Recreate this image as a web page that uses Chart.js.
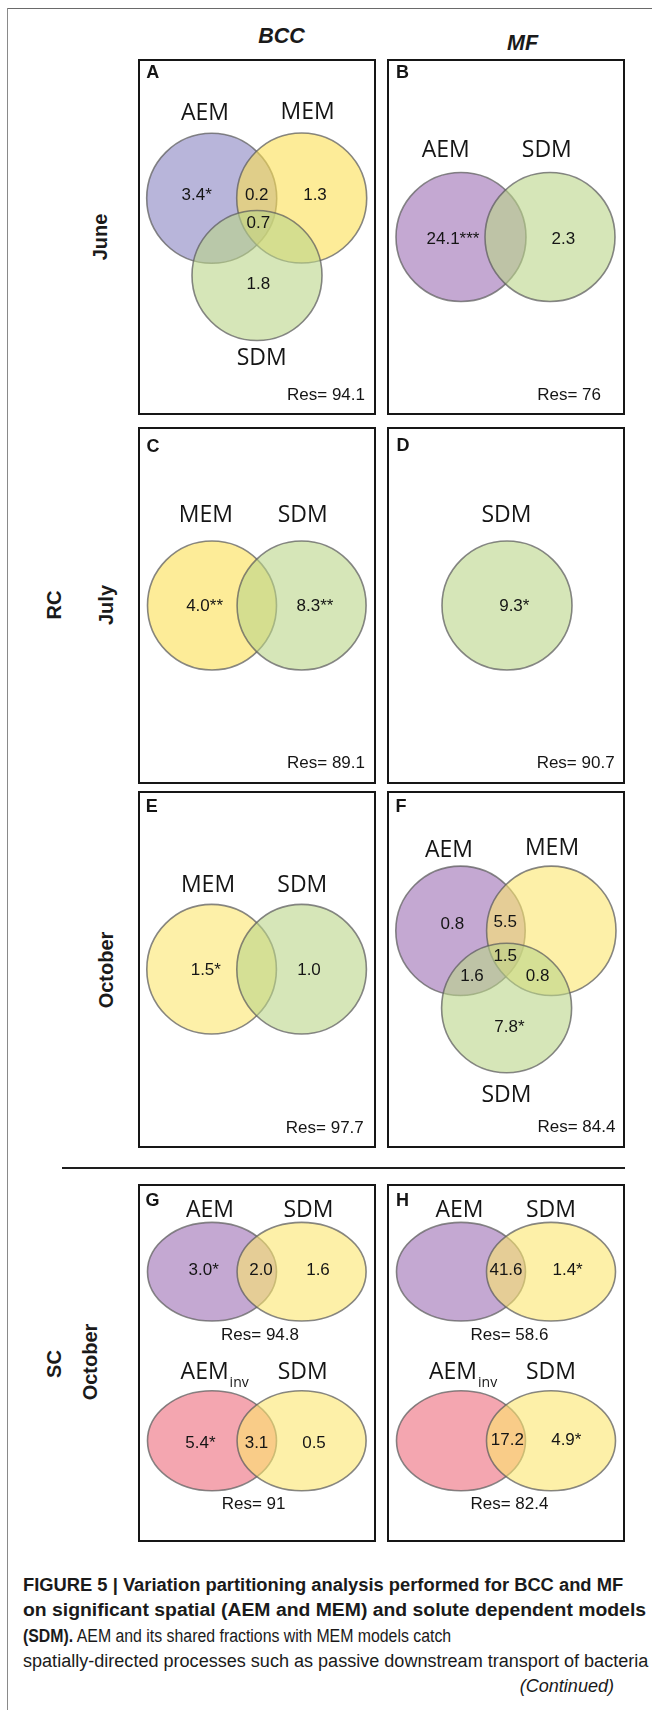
<!DOCTYPE html>
<html>
<head>
<meta charset="utf-8">
<script src="https://cdn.jsdelivr.net/npm/chart.js@4.4.1/dist/chart.umd.min.js"></script>
<style>
  html, body { margin: 0; padding: 0; background: #fff; }
  #page { position: relative; width: 652px; height: 1710px; overflow: hidden; background: #fff;
          font-family: "Liberation Sans", Arial, sans-serif; color: #111; }
  .frame-top { position: absolute; left: 7px; top: 7.5px; width: 645px; height: 1.6px; background: #6a6a6a; }
  .frame-left { position: absolute; left: 6.5px; top: 7.5px; width: 1.6px; height: 1703px; background: #8a8a8a; }
  .col-head { position: absolute; font-weight: bold; font-style: italic; font-size: 21.5px;
              transform: translate(-50%, -50%); white-space: nowrap; color: #1a1a1a; }
  .row-lab { position: absolute; font-weight: bold; font-size: 20px; white-space: nowrap; color: #1a1a1a;
             transform: translate(-50%, -50%) rotate(-90deg); }
  .sep { position: absolute; left: 62px; top: 1166.5px; width: 563px; height: 2.6px; background: #1e1e1e; }
  canvas.panel { position: absolute; }
  .cap { position: absolute; left: 23px; font-size: 18px; line-height: 1; white-space: nowrap;
         transform-origin: left center; color: #1a1a1a; }
  .cap.right { left: auto; transform-origin: right center; }
</style>
</head>
<body>
<div id="page">
  <div class="frame-top"></div>
  <div class="frame-left"></div>
  <div id="heads"></div>
  <div class="sep"></div>
  <div class="cap" id="cap1" style="top:1576px"><b>FIGURE 5 | Variation partitioning analysis performed for BCC and MF</b></div>
  <div class="cap" id="cap2" style="top:1601px"><b>on significant spatial (AEM and MEM) and solute dependent models</b></div>
  <div class="cap" id="cap3" style="top:1627px"><b>(SDM).</b> AEM and its shared fractions with MEM models catch</div>
  <div class="cap" id="cap4" style="top:1652px">spatially-directed processes such as passive downstream transport of bacteria</div>
  <div class="cap right" id="cap5" style="top:1677px; right:38px"><i>(Continued)</i></div>
</div>
<script>
// ---- figure text ----
const columnTitles = ['BCC', 'MF'];
const rowTitles = ['June', 'RC', 'July', 'October', 'SC', 'October'];
const panelLetters = ['A', 'B', 'C', 'D', 'E', 'F', 'G', 'H'];

// ---- variation partitioning results (% explained variance) ----
const diagramIds = ['A', 'B', 'C', 'D', 'E', 'F', 'G1', 'G2', 'H1', 'H2'];
const diagramSets = [
  ['AEM', 'MEM', 'SDM'], ['AEM', 'SDM'], ['MEM', 'SDM'], ['SDM'], ['MEM', 'SDM'],
  ['AEM', 'MEM', 'SDM'], ['AEM', 'SDM'], ['AEM_inv', 'SDM'], ['AEM', 'SDM'], ['AEM_inv', 'SDM']
];
const fractionRegions = [
  ['AEM', 'AEM+MEM', 'MEM', 'AEM+MEM+SDM', 'SDM'],
  ['AEM', 'SDM'],
  ['MEM', 'SDM'],
  ['SDM'],
  ['MEM', 'SDM'],
  ['AEM', 'AEM+MEM', 'AEM+MEM+SDM', 'AEM+SDM', 'MEM+SDM', 'SDM'],
  ['AEM', 'AEM+SDM', 'SDM'],
  ['AEM_inv', 'AEM_inv+SDM', 'SDM'],
  ['AEM+SDM', 'SDM'],
  ['AEM_inv+SDM', 'SDM']
];
const fractionValues = [
  [3.4, 0.2, 1.3, 0.7, 1.8],
  [24.1, 2.3],
  [4.0, 8.3],
  [9.3],
  [1.5, 1.0],
  [0.8, 5.5, 1.5, 1.6, 0.8, 7.8],
  [3.0, 2.0, 1.6],
  [5.4, 3.1, 0.5],
  [41.6, 1.4],
  [17.2, 4.9]
];
const fractionSignif = [
  ['*', '', '', '', ''],
  ['***', ''],
  ['**', '**'],
  ['*'],
  ['*', ''],
  ['', '', '', '', '', '*'],
  ['*', '', ''],
  ['*', '', ''],
  ['', '*'],
  ['', '*']
];
const residuals = [94.1, 76, 89.1, 90.7, 97.7, 84.4, 94.8, 91, 58.6, 82.4];

// ---- page layout (px) ----
const PANEL_BOX = {
  A: [138, 59, 238, 356], B: [387, 59, 238, 356],
  C: [138, 427, 238, 357], D: [387, 427, 238, 357],
  E: [138, 791, 238, 357], F: [387, 791, 238, 357],
  G: [138, 1184, 238, 358], H: [387, 1184, 238, 358]
};
const LETTER_POS = {
  A: [14.7, 13.7], B: [15.5, 13.7], C: [15, 19.7], D: [16, 19],
  E: [13.8, 15.7], F: [14, 15.7], G: [14.6, 16.7], H: [15.5, 16.7]
};
const FILL = {
  lav:    'rgba(137,132,193,0.6)',
  purple: 'rgba(157,110,180,0.6)',
  yelA:   'rgba(252,223,83,0.6)',
  yel:    'rgba(252,230,110,0.6)',
  green:  'rgba(187,213,137,0.6)',
  pink:   'rgba(237,107,123,0.6)'
};
// set ellipses (centre x, centre y, radius x, radius y), fills, label anchors, in panel coordinates
const DIAGRAM_LAYOUT = {
  A:  { shapes: [[73.7, 139.3, 65, 65], [163.7, 139, 65, 65], [119, 216.5, 65, 65]],
        fills: ['lav', 'yelA', 'green'], names: [[67, 54], [169.7, 53.4], [123.7, 299.3]],
        regions: [[58.7, 136], [118.7, 136], [177, 136], [120.3, 164.3], [120.3, 225]],
        res: ['right', 227, 336] },
  B:  { shapes: [[74, 178, 65, 64.5], [163, 178, 65, 64.5]],
        fills: ['purple', 'green'], names: [[58.7, 91.5], [159.8, 91.5]],
        regions: [[66, 180], [176.4, 180]], res: ['right', 214, 336] },
  C:  { shapes: [[74, 178.5, 64.5, 64.5], [163.6, 178.5, 64.5, 64.5]],
        fills: ['yelA', 'green'], names: [[67.8, 88], [164.7, 88]],
        regions: [[66.6, 179.7], [177, 179.7]], res: ['right', 227, 336.3] },
  D:  { shapes: [[120, 178.5, 65, 64.5]],
        fills: ['green'], names: [[119.4, 88]],
        regions: [[127.3, 179.7]], res: ['right', 227.6, 336.3] },
  E:  { shapes: [[73.6, 178.2, 64.8, 64.8], [163.6, 178.2, 64.8, 64.8]],
        fills: ['yel', 'green'], names: [[70, 94], [164.3, 94]],
        regions: [[67.8, 179], [171, 179]], res: ['right', 225.8, 337.3] },
  F:  { shapes: [[73.5, 139.8, 64.7, 64.7], [164.3, 139.8, 64.7, 64.7], [119.6, 217, 65, 64.7]],
        fills: ['purple', 'yel', 'green'], names: [[62, 59.7], [165, 57.3], [119.4, 304]],
        regions: [[65.4, 133], [118.2, 131.7], [118.2, 165], [85, 185], [150.6, 185], [122.4, 236.3]],
        res: ['right', 228.4, 336.7] },
  G1: { shapes: [[74, 87.7, 64.5, 49.3], [163.6, 87.7, 64.5, 49.3]],
        fills: ['purple', 'yel'], names: [[72, 26], [170.5, 26]],
        regions: [[65.7, 86.7], [123, 86.7], [180, 86.7]], res: ['center', 122, 151] },
  G2: { shapes: [[74, 256.7, 64.5, 50], [163.6, 256.7, 64.5, 50]],
        fills: ['pink', 'yel'], names: [[66.6, 188.7], [164.7, 188.7]],
        regions: [[62.4, 259.3], [118.5, 259.3], [176, 259.3]], res: ['center', 115.6, 320] },
  H1: { shapes: [[74, 87.7, 64.5, 49.3], [164, 87.7, 64.5, 49.3]],
        fills: ['purple', 'yel'], names: [[72.5, 26], [164, 26]],
        regions: [[119, 86.7], [180.6, 86.7]], res: ['center', 122.4, 151] },
  H2: { shapes: [[74, 256.7, 64.5, 50], [164, 256.7, 64.5, 50]],
        fills: ['pink', 'yel'], names: [[66, 188.7], [164, 188.7]],
        regions: [[120.3, 256.7], [179.3, 256.7]], res: ['center', 122.4, 320] }
};

const NAME_FONT = '23px "Open Sans", "Noto Sans", sans-serif';
const SUB_FONT = '14px "Open Sans", "Noto Sans", sans-serif';
const NUM_FONT = '17px "Liberation Sans", Arial, sans-serif';
const LETTER_FONT = 'bold 18px "Liberation Sans", Arial, sans-serif';

// headings and row labels
const heads = document.getElementById('heads');
function addText(cls, text, x, y) {
  const d = document.createElement('div');
  d.className = cls; d.textContent = text;
  d.style.left = x + 'px'; d.style.top = y + 'px';
  heads.appendChild(d);
}
addText('col-head', columnTitles[0], 281.5, 36);
addText('col-head', columnTitles[1], 522.5, 43);
const rowPos = [[100, 237], [54, 605], [106, 605], [106, 970], [54, 1364], [89.5, 1362]];
rowTitles.forEach((t, i) => addText('row-lab', t, rowPos[i][0], rowPos[i][1]));

// draws set ellipses through the chart scales, then the labels
const vennPlugin = {
  id: 'venn',
  afterDatasetsDraw(chart) {
    const { ctx } = chart;
    const xs = chart.scales.x, ys = chart.scales.y;
    chart.data.datasets.forEach((ds, i) => {
      const meta = chart.getDatasetMeta(i);
      meta.data.forEach((pt, j) => {
        const d = ds.data[j];
        const rx = Math.abs(xs.getPixelForValue(d.x + d.rx) - pt.x);
        const ry = Math.abs(ys.getPixelForValue(d.y + d.ry) - pt.y);
        ctx.save();
        ctx.beginPath();
        ctx.ellipse(pt.x, pt.y, rx, ry, 0, 0, Math.PI * 2);
        ctx.fillStyle = ds.vennFill;
        ctx.fill();
        ctx.lineWidth = 1.6;
        ctx.strokeStyle = 'rgba(95,95,95,0.75)';
        ctx.stroke();
        ctx.restore();
      });
    });
  },
  afterDraw(chart) {
    const { ctx } = chart;
    const xs = chart.scales.x, ys = chart.scales.y;
    const P = (x, y) => [xs.getPixelForValue(x), ys.getPixelForValue(y)];
    const o = chart.options.plugins.venn;
    ctx.save();
    ctx.fillStyle = '#151515';
    ctx.textBaseline = 'middle';
    // panel letter
    ctx.font = LETTER_FONT; ctx.textAlign = 'center';
    const lp = P(...LETTER_POS[o.letter]);
    ctx.fillText(o.letter, lp[0], lp[1]);
    o.diagrams.forEach(k => {
      const L = DIAGRAM_LAYOUT[diagramIds[k]];
      // set names
      diagramSets[k].forEach((name, i) => {
        const p = P(...L.names[i]);
        const [main, sub] = name.split('_');
        ctx.font = NAME_FONT; ctx.textAlign = 'center';
        ctx.fillText(main, p[0], p[1]);
        if (sub) {
          const w = ctx.measureText(main).width;
          ctx.font = SUB_FONT; ctx.textAlign = 'left';
          ctx.fillText(sub, p[0] + w / 2 + 1, p[1] + 10);
        }
      });
      // fractions
      ctx.font = NUM_FONT; ctx.textAlign = 'center';
      fractionValues[k].forEach((v, i) => {
        const p = P(...L.regions[i]);
        ctx.fillText(v.toFixed(1) + fractionSignif[k][i], p[0], p[1]);
      });
      // residual
      const r = L.res;
      ctx.textAlign = r[0];
      const rp = P(r[1], r[2]);
      ctx.fillText('Res= ' + String(residuals[k]), rp[0], rp[1]);
    });
    // panel frame
    ctx.lineWidth = 2;
    ctx.strokeStyle = '#161616';
    ctx.strokeRect(1, 1, chart.width - 2, chart.height - 2);
    ctx.restore();
  }
};

const page = document.getElementById('page');
panelLetters.forEach(letter => {
  const [bx, by, bw, bh] = PANEL_BOX[letter];
  const cv = document.createElement('canvas');
  cv.className = 'panel';
  cv.width = bw; cv.height = bh;
  cv.style.left = bx + 'px'; cv.style.top = by + 'px';
  cv.style.width = bw + 'px'; cv.style.height = bh + 'px';
  page.appendChild(cv);

  const keys = diagramIds.map((id, i) => [id, i]).filter(([id]) => id[0] === letter);
  const datasets = [];
  keys.forEach(([id, k]) => {
    const L = DIAGRAM_LAYOUT[id];
    diagramSets[k].forEach((name, i) => {
      const s = L.shapes[i];
      datasets.push({
        label: id + ' ' + name,
        data: [{ x: s[0], y: s[1], rx: s[2], ry: s[3] }],
        vennFill: FILL[L.fills[i]],
        pointRadius: 0, pointHoverRadius: 0
      });
    });
  });

  new Chart(cv, {
    type: 'scatter',
    data: { datasets },
    options: {
      responsive: false, animation: false, devicePixelRatio: 1, events: [],
      layout: { padding: 0 },
      plugins: {
        legend: { display: false }, tooltip: { enabled: false },
        venn: { letter, diagrams: keys.map(([, k]) => k) }
      },
      scales: {
        x: { type: 'linear', display: false, min: 0, max: bw },
        y: { type: 'linear', display: false, min: 0, max: bh, reverse: true }
      }
    },
    plugins: [vennPlugin]
  });
});

// condensed caption type: each line is narrowed to its set width
const capWidths = { cap1: 600, cap2: 623, cap3: 428, cap4: 625 };
const capScale = {};
Object.keys(capWidths).forEach(id => {
  const el = document.getElementById(id);
  capScale[id] = capWidths[id] / el.scrollWidth;
  el.style.transform = 'scaleX(' + capScale[id].toFixed(4) + ')';
});
document.getElementById('cap5').style.transform = 'scaleX(' + capScale.cap4.toFixed(4) + ')';
</script>
</body>
</html>
